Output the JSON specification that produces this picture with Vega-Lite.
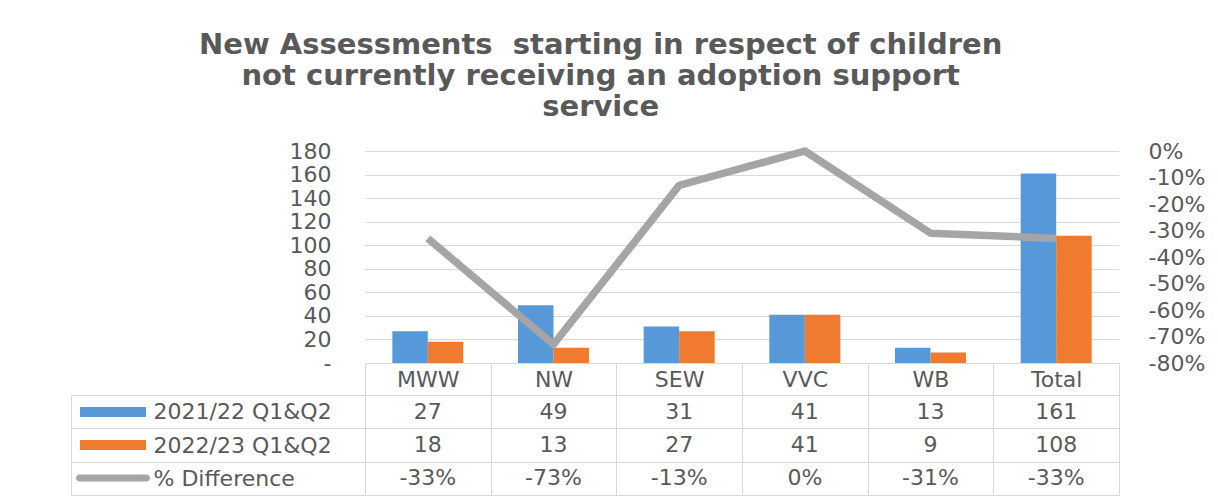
{
  "$schema": "https://vega.github.io/schema/vega-lite/v6.json",
  "padding": {"left": 70, "top": 31, "right": 5, "bottom": 0},
  "title": {
    "text": ["New Assessments\u00a0 starting in respect of children", "not currently receiving an adoption support", "service"],
    "font": "DejaVu Sans",
    "fontWeight": "bold",
    "fontSize": 29,
    "lineHeight": 31,
    "color": "#595959",
    "anchor": "middle",
    "offset": 18,
    "dx": -37
  },
  "datasets": {
    "d": [
      {"region": "MWW", "series": "2021/22 Q1&Q2", "value": 27},
      {"region": "NW", "series": "2021/22 Q1&Q2", "value": 49},
      {"region": "SEW", "series": "2021/22 Q1&Q2", "value": 31},
      {"region": "VVC", "series": "2021/22 Q1&Q2", "value": 41},
      {"region": "WB", "series": "2021/22 Q1&Q2", "value": 13},
      {"region": "Total", "series": "2021/22 Q1&Q2", "value": 161},
      {"region": "MWW", "series": "2022/23 Q1&Q2", "value": 18},
      {"region": "NW", "series": "2022/23 Q1&Q2", "value": 13},
      {"region": "SEW", "series": "2022/23 Q1&Q2", "value": 27},
      {"region": "VVC", "series": "2022/23 Q1&Q2", "value": 41},
      {"region": "WB", "series": "2022/23 Q1&Q2", "value": 9},
      {"region": "Total", "series": "2022/23 Q1&Q2", "value": 108},
      {"region": "MWW", "series": "% Difference", "value": -0.33},
      {"region": "NW", "series": "% Difference", "value": -0.73},
      {"region": "SEW", "series": "% Difference", "value": -0.13},
      {"region": "VVC", "series": "% Difference", "value": 0},
      {"region": "WB", "series": "% Difference", "value": -0.31},
      {"region": "Total", "series": "% Difference", "value": -0.33}
    ]
  },
  "vconcat": [
    {
      "width": 754,
      "height": 212,
      "data": {"name": "d"},
      "layer": [
        {
          "transform": [{"filter": "datum.series !== '% Difference'"}],
          "mark": {"type": "bar"},
          "encoding": {
            "x": {
              "field": "region", "type": "nominal",
              "sort": ["MWW", "NW", "SEW", "VVC", "WB", "Total"],
              "scale": {"paddingInner": 0, "paddingOuter": 0},
              "axis": {
                "title": null, "orient": "bottom", "labelAngle": 0,
                "domain": true, "domainColor": "#d9d9d9",
                "ticks": true, "tickBand": "extent", "tickSize": 32, "tickColor": "#d9d9d9",
                "labelBaseline": "middle", "labelPadding": -16, "grid": false
              }
            },
            "xOffset": {
              "field": "series", "type": "nominal",
              "sort": ["2021/22 Q1&Q2", "2022/23 Q1&Q2"],
              "scale": {"paddingInner": 0, "paddingOuter": 0.77}
            },
            "y": {
              "field": "value", "type": "quantitative",
              "scale": {"domain": [0, 180]},
              "axis": {
                "title": null, "values": [0, 20, 40, 60, 80, 100, 120, 140, 160, 180],
                "labelExpr": "datum.value === 0 ? '-' : datum.label",
                "grid": true, "gridColor": "#d9d9d9", "domain": false, "ticks": false, "labelPadding": 34,
                "encode": {"labels": {"update": {"dx": {"signal": "datum.value === 0 ? -17 : 0"}}}}
              }
            },
            "color": {
              "field": "series", "type": "nominal",
              "scale": {
                "domain": ["2021/22 Q1&Q2", "2022/23 Q1&Q2", "% Difference"],
                "range": ["#5798d8", "#ee7b2f", "#a5a5a5"]
              },
              "legend": {
                "orient": "none", "legendX": -257, "legendY": 256, "direction": "vertical",
                "title": null, "padding": 0, "symbolSize": 100, "symbolStrokeWidth": 0,
                "labelFontSize": 0, "labelExpr": "''", "labelOffset": 0, "rowPadding": 23,
                "symbolType": "M-6.6,-1H6.6V1H-6.6Z",
                "encode": {
                  "symbols": {
                    "update": {
                      "fill": {"signal": "datum.value === '% Difference' ? '#a5a5a5' : datum.value === '2021/22 Q1&Q2' ? '#5798d8' : '#ee7b2f'"},
                      "stroke": {"value": "transparent"},
                      "strokeWidth": {"value": 0},
                      "opacity": {"value": 1},
                      "shape": {"signal": "datum.value === '% Difference' ? 'M-6.7,-0.7H6.7A0.7,0.7 0 0 1 6.7,0.7H-6.7A0.7,0.7 0 0 1 -6.7,-0.7Z' : 'M-6.6,-1H6.6V1H-6.6Z'"}
                    }
                  }
                }
              }
            }
          }
        },
        {
          "transform": [{"filter": "datum.series === '% Difference'"}],
          "mark": {"type": "line", "strokeWidth": 7.5, "strokeJoin": "round", "strokeCap": "butt"},
          "encoding": {
            "x": {"field": "region", "type": "nominal", "sort": ["MWW", "NW", "SEW", "VVC", "WB", "Total"]},
            "y": {
              "field": "value", "type": "quantitative",
              "scale": {"domain": [-0.8, 0]},
              "axis": {
                "title": null, "orient": "right",
                "values": [-0.8, -0.7, -0.6, -0.5, -0.4, -0.3, -0.2, -0.1, 0],
                "format": ".0%", "grid": false, "domain": false, "ticks": false, "labelPadding": 29
              }
            },
            "color": {"field": "series", "type": "nominal"}
          }
        }
      ],
      "resolve": {"scale": {"y": "independent"}}
    },
    {
      "width": 754,
      "height": 100,
      "data": {"name": "d"},
      "encoding": {
        "x": {
          "field": "region", "type": "nominal",
          "sort": ["MWW", "NW", "SEW", "VVC", "WB", "Total"],
          "scale": {"paddingInner": 0, "paddingOuter": 0},
          "axis": {
            "title": null, "labels": false, "ticks": false, "domain": false,
            "grid": true, "tickBand": "extent", "gridColor": "#d9d9d9"
          }
        },
        "y": {
          "field": "series", "type": "nominal",
          "sort": ["2021/22 Q1&Q2", "2022/23 Q1&Q2", "% Difference"],
          "scale": {"paddingInner": 0, "paddingOuter": 0},
          "axis": {
            "title": null, "orient": "left", "offset": 294,
            "domain": true, "domainColor": "#d9d9d9",
            "ticks": true, "tickSize": -294, "tickColor": "#d9d9d9", "tickBand": "extent",
            "grid": true, "gridColor": "#d9d9d9",
            "labelAlign": "left", "labelBaseline": "middle", "labelPadding": 212
          }
        }
      },
      "layer": [
        {
          "transform": [{"filter": "datum.series !== '% Difference'"}],
          "mark": {"type": "text", "font": "DejaVu Sans", "fontSize": 22, "color": "#595959"},
          "encoding": {"text": {"field": "value", "type": "quantitative", "format": "d"}}
        },
        {
          "transform": [{"filter": "datum.series === '% Difference'"}],
          "mark": {"type": "text", "font": "DejaVu Sans", "fontSize": 22, "color": "#595959"},
          "encoding": {"text": {"field": "value", "type": "quantitative", "format": ".0%"}}
        }
      ]
    }
  ],
  "spacing": 32,
  "bounds": "flush",
  "config": {
    "view": {"stroke": null},
    "font": "DejaVu Sans",
    "axis": {"labelFont": "DejaVu Sans", "labelFontSize": 22, "labelColor": "#595959", "labelLimit": 400},
    "locale": {"number": {"decimal": ".", "thousands": ",", "grouping": [3], "currency": ["$", ""], "minus": "-"}}
  }
}
